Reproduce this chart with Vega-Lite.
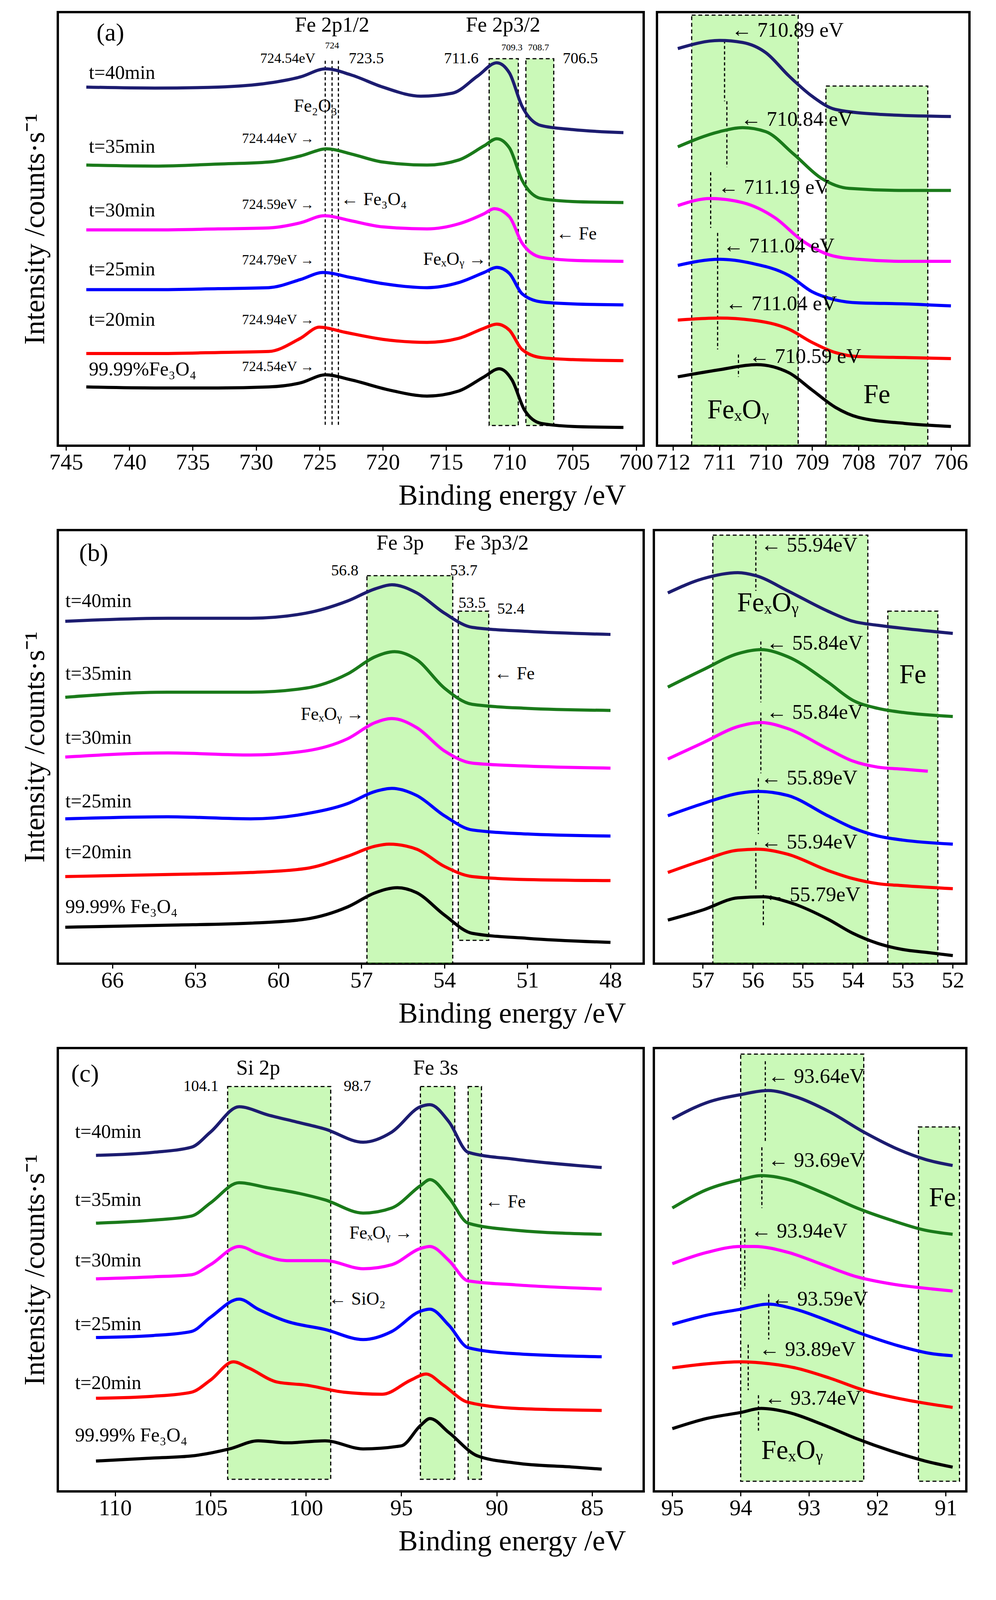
{
  "$schema": "https://vega.github.io/schema/vega-lite/v6.json",
  "padding": {"left": 50, "top": 28, "right": 10, "bottom": 5},
  "background": "white",
  "config": {
    "font": "Liberation Serif",
    "view": {"stroke": "#000", "strokeWidth": 6},
    "axis": {"labelFont": "Liberation Serif", "titleFont": "Liberation Serif", "labelFontSize": 58, "titleFontSize": 74, "titleFontWeight": "normal", "grid": false, "domain": false, "tickSize": 12, "tickWidth": 3, "tickColor": "#000", "labelColor": "#000", "titleColor": "#000", "format": "d"},
    "text": {"font": "Liberation Serif", "color": "#000"},
    "line": {"interpolate": "monotone"}
  },
  "datasets": {
    "rects": [
      {"p": "aL", "x1": 711.6, "x2": 709.3, "y1": 58, "y2": 420},
      {"p": "aL", "x1": 708.7, "x2": 706.5, "y1": 58, "y2": 420},
      {"p": "aR", "x1": 711.6, "x2": 709.3, "y1": 15, "y2": 440},
      {"p": "aR", "x1": 708.7, "x2": 706.5, "y1": 85, "y2": 440},
      {"p": "bL", "x1": 56.8, "x2": 53.7, "y1": 585, "y2": 968},
      {"p": "bL", "x1": 53.5, "x2": 52.4, "y1": 620, "y2": 945},
      {"p": "bR", "x1": 56.8, "x2": 53.7, "y1": 545, "y2": 968},
      {"p": "bR", "x1": 53.3, "x2": 52.3, "y1": 620, "y2": 968},
      {"p": "cL", "x1": 104.1, "x2": 98.7, "y1": 1090, "y2": 1478},
      {"p": "cL", "x1": 94, "x2": 92.2, "y1": 1090, "y2": 1478},
      {"p": "cL", "x1": 91.5, "x2": 90.8, "y1": 1090, "y2": 1478},
      {"p": "cR", "x1": 94, "x2": 92.2, "y1": 1058, "y2": 1480},
      {"p": "cR", "x1": 91.4, "x2": 90.8, "y1": 1130, "y2": 1480}
    ],
    "vlines": [
      {"p": "aL", "x": 724.54, "y1": 60, "y2": 420},
      {"p": "aL", "x": 724, "y1": 60, "y2": 420},
      {"p": "aL", "x": 723.5, "y1": 60, "y2": 420},
      {"p": "aR", "x": 710.89, "y1": 40, "y2": 100},
      {"p": "aR", "x": 710.84, "y1": 100, "y2": 165},
      {"p": "aR", "x": 711.19, "y1": 170, "y2": 225},
      {"p": "aR", "x": 711.04, "y1": 230, "y2": 290},
      {"p": "aR", "x": 711.04, "y1": 290, "y2": 345},
      {"p": "aR", "x": 710.59, "y1": 350, "y2": 372},
      {"p": "bR", "x": 55.94, "y1": 545, "y2": 600},
      {"p": "bR", "x": 55.84, "y1": 650, "y2": 710},
      {"p": "bR", "x": 55.84, "y1": 720, "y2": 780},
      {"p": "bR", "x": 55.89, "y1": 785, "y2": 840},
      {"p": "bR", "x": 55.94, "y1": 848, "y2": 895},
      {"p": "bR", "x": 55.79, "y1": 900, "y2": 930},
      {"p": "cR", "x": 93.64, "y1": 1065, "y2": 1145},
      {"p": "cR", "x": 93.69, "y1": 1150, "y2": 1210},
      {"p": "cR", "x": 93.94, "y1": 1230, "y2": 1290},
      {"p": "cR", "x": 93.59, "y1": 1295, "y2": 1340},
      {"p": "cR", "x": 93.89, "y1": 1345, "y2": 1390},
      {"p": "cR", "x": 93.74, "y1": 1395, "y2": 1430}
    ],
    "labels": [
      {"p": "aL", "x": 742.6, "y": 33, "t": "(a)", "a": "left", "k": "panel"},
      {"p": "aL", "x": 724, "y": 25, "t": "Fe 2p1/2", "a": "center", "k": "head"},
      {"p": "aL", "x": 710.5, "y": 25, "t": "Fe 2p3/2", "a": "center", "k": "head"},
      {"p": "aL", "x": 727.5, "y": 58, "t": "724.54eV", "a": "center", "k": "peak"},
      {"p": "aL", "x": 724, "y": 45, "t": "724", "a": "center", "k": "tiny"},
      {"p": "aL", "x": 721.3, "y": 58, "t": "723.5", "a": "center", "k": "small"},
      {"p": "aL", "x": 713.8, "y": 58, "t": "711.6", "a": "center", "k": "small"},
      {"p": "aL", "x": 709.8, "y": 47, "t": "709.3", "a": "center", "k": "tiny"},
      {"p": "aL", "x": 707.7, "y": 47, "t": "708.7", "a": "center", "k": "tiny"},
      {"p": "aL", "x": 704.4, "y": 58, "t": "706.5", "a": "center", "k": "small"},
      {"p": "aL", "x": 743.2, "y": 72, "t": "t=40min", "a": "left", "k": "series"},
      {"p": "aL", "x": 743.2, "y": 145, "t": "t=35min", "a": "left", "k": "series"},
      {"p": "aL", "x": 743.2, "y": 208, "t": "t=30min", "a": "left", "k": "series"},
      {"p": "aL", "x": 743.2, "y": 266, "t": "t=25min", "a": "left", "k": "series"},
      {"p": "aL", "x": 743.2, "y": 316, "t": "t=20min", "a": "left", "k": "series"},
      {"p": "aL", "x": 743.2, "y": 365, "t": "99.99%Fe₃O₄", "a": "left", "k": "series"},
      {"p": "aL", "x": 725.4, "y": 137, "t": "724.44eV →", "a": "right", "k": "peak"},
      {"p": "aL", "x": 725.4, "y": 202, "t": "724.59eV →", "a": "right", "k": "peak"},
      {"p": "aL", "x": 725.4, "y": 257, "t": "724.79eV →", "a": "right", "k": "peak"},
      {"p": "aL", "x": 725.4, "y": 316, "t": "724.94eV →", "a": "right", "k": "peak"},
      {"p": "aL", "x": 725.4, "y": 362, "t": "724.54eV →", "a": "right", "k": "peak"},
      {"p": "aL", "x": 725.3, "y": 105, "t": "Fe₂O₃", "a": "center", "k": "mid"},
      {"p": "aL", "x": 723.3, "y": 197, "t": "← Fe₃O₄", "a": "left", "k": "mid"},
      {"p": "aL", "x": 711.8, "y": 256, "t": "FeₓOᵧ →", "a": "right", "k": "mid"},
      {"p": "aL", "x": 706.3, "y": 231, "t": "← Fe", "a": "left", "k": "mid"},
      {"p": "aR", "x": 710.74, "y": 30, "t": "← 710.89 eV", "a": "left", "k": "rpeak"},
      {"p": "aR", "x": 710.54, "y": 118, "t": "← 710.84 eV", "a": "left", "k": "rpeak"},
      {"p": "aR", "x": 711.03, "y": 185, "t": "← 711.19 eV", "a": "left", "k": "rpeak"},
      {"p": "aR", "x": 710.92, "y": 243, "t": "← 711.04 eV", "a": "left", "k": "rpeak"},
      {"p": "aR", "x": 710.87, "y": 300, "t": "← 711.04 eV", "a": "left", "k": "rpeak"},
      {"p": "aR", "x": 710.36, "y": 352, "t": "← 710.59 eV", "a": "left", "k": "rpeak"},
      {"p": "aR", "x": 710.6, "y": 405, "t": "FeₓOᵧ", "a": "center", "k": "big"},
      {"p": "aR", "x": 707.6, "y": 390, "t": "Fe", "a": "center", "k": "big"},
      {"p": "bL", "x": 67.2, "y": 563, "t": "(b)", "a": "left", "k": "panel"},
      {"p": "bL", "x": 55.6, "y": 553, "t": "Fe 3p", "a": "center", "k": "head"},
      {"p": "bL", "x": 52.3, "y": 553, "t": "Fe 3p3/2", "a": "center", "k": "head"},
      {"p": "bL", "x": 57.6, "y": 580, "t": "56.8", "a": "center", "k": "small"},
      {"p": "bL", "x": 53.3, "y": 580, "t": "53.7", "a": "center", "k": "small"},
      {"p": "bL", "x": 53.0, "y": 612, "t": "53.5", "a": "center", "k": "small"},
      {"p": "bL", "x": 51.6, "y": 618, "t": "52.4", "a": "center", "k": "small"},
      {"p": "bL", "x": 67.7, "y": 610, "t": "t=40min", "a": "left", "k": "series"},
      {"p": "bL", "x": 67.7, "y": 682, "t": "t=35min", "a": "left", "k": "series"},
      {"p": "bL", "x": 67.7, "y": 745, "t": "t=30min", "a": "left", "k": "series"},
      {"p": "bL", "x": 67.7, "y": 808, "t": "t=25min", "a": "left", "k": "series"},
      {"p": "bL", "x": 67.7, "y": 858, "t": "t=20min", "a": "left", "k": "series"},
      {"p": "bL", "x": 67.7, "y": 912, "t": "99.99% Fe₃O₄", "a": "left", "k": "series"},
      {"p": "bL", "x": 56.9, "y": 722, "t": "FeₓOᵧ →", "a": "right", "k": "mid"},
      {"p": "bL", "x": 52.2, "y": 682, "t": "← Fe", "a": "left", "k": "mid"},
      {"p": "bR", "x": 55.84, "y": 555, "t": "← 55.94eV", "a": "left", "k": "rpeak"},
      {"p": "bR", "x": 55.73, "y": 652, "t": "← 55.84eV", "a": "left", "k": "rpeak"},
      {"p": "bR", "x": 55.73, "y": 720, "t": "← 55.84eV", "a": "left", "k": "rpeak"},
      {"p": "bR", "x": 55.84, "y": 785, "t": "← 55.89eV", "a": "left", "k": "rpeak"},
      {"p": "bR", "x": 55.84, "y": 848, "t": "← 55.94eV", "a": "left", "k": "rpeak"},
      {"p": "bR", "x": 55.78, "y": 900, "t": "← 55.79eV", "a": "left", "k": "rpeak"},
      {"p": "bR", "x": 55.7, "y": 612, "t": "FeₓOᵧ", "a": "center", "k": "big"},
      {"p": "bR", "x": 52.8, "y": 683, "t": "Fe", "a": "center", "k": "big"},
      {"p": "cL", "x": 112.3, "y": 1078, "t": "(c)", "a": "left", "k": "panel"},
      {"p": "cL", "x": 102.5, "y": 1072, "t": "Si 2p", "a": "center", "k": "head"},
      {"p": "cL", "x": 93.2, "y": 1072, "t": "Fe 3s", "a": "center", "k": "head"},
      {"p": "cL", "x": 105.5, "y": 1090, "t": "104.1", "a": "center", "k": "small"},
      {"p": "cL", "x": 97.3, "y": 1090, "t": "98.7", "a": "center", "k": "small"},
      {"p": "cL", "x": 112.1, "y": 1135, "t": "t=40min", "a": "left", "k": "series"},
      {"p": "cL", "x": 112.1, "y": 1202, "t": "t=35min", "a": "left", "k": "series"},
      {"p": "cL", "x": 112.1, "y": 1262, "t": "t=30min", "a": "left", "k": "series"},
      {"p": "cL", "x": 112.1, "y": 1325, "t": "t=25min", "a": "left", "k": "series"},
      {"p": "cL", "x": 112.1, "y": 1383, "t": "t=20min", "a": "left", "k": "series"},
      {"p": "cL", "x": 112.1, "y": 1435, "t": "99.99% Fe₃O₄", "a": "left", "k": "series"},
      {"p": "cL", "x": 94.4, "y": 1235, "t": "FeₓOᵧ →", "a": "right", "k": "mid"},
      {"p": "cL", "x": 90.6, "y": 1204, "t": "← Fe", "a": "left", "k": "mid"},
      {"p": "cL", "x": 98.8, "y": 1300, "t": "← SiO₂", "a": "left", "k": "mid"},
      {"p": "cR", "x": 93.6, "y": 1080, "t": "← 93.64eV", "a": "left", "k": "rpeak"},
      {"p": "cR", "x": 93.6, "y": 1163, "t": "← 93.69eV", "a": "left", "k": "rpeak"},
      {"p": "cR", "x": 93.85, "y": 1233, "t": "← 93.94eV", "a": "left", "k": "rpeak"},
      {"p": "cR", "x": 93.55, "y": 1300, "t": "← 93.59eV", "a": "left", "k": "rpeak"},
      {"p": "cR", "x": 93.73, "y": 1350, "t": "← 93.89eV", "a": "left", "k": "rpeak"},
      {"p": "cR", "x": 93.65, "y": 1398, "t": "← 93.74eV", "a": "left", "k": "rpeak"},
      {"p": "cR", "x": 93.25, "y": 1450, "t": "FeₓOᵧ", "a": "center", "k": "big"},
      {"p": "cR", "x": 91.05, "y": 1200, "t": "Fe", "a": "center", "k": "big"}
    ],
    "curves": [
      {"p":"aL","s":"ref","x":743.4,"y":382},{"p":"aL","s":"ref","x":738,"y":383},{"p":"aL","s":"ref","x":733,"y":383},{"p":"aL","s":"ref","x":729,"y":382},{"p":"aL","s":"ref","x":726.5,"y":378},{"p":"aL","s":"ref","x":724.5,"y":370},{"p":"aL","s":"ref","x":722.5,"y":375},{"p":"aL","s":"ref","x":719.5,"y":385},{"p":"aL","s":"ref","x":716.5,"y":391},{"p":"aL","s":"ref","x":714,"y":386},{"p":"aL","s":"ref","x":712,"y":372},{"p":"aL","s":"ref","x":710.8,"y":364},{"p":"aL","s":"ref","x":709.8,"y":375},{"p":"aL","s":"ref","x":708.8,"y":405},{"p":"aL","s":"ref","x":707.5,"y":418},{"p":"aL","s":"ref","x":705,"y":421},{"p":"aL","s":"ref","x":701,"y":422},
      {"p":"aL","s":"20","x":743.4,"y":349},{"p":"aL","s":"20","x":738,"y":349},{"p":"aL","s":"20","x":733,"y":348},{"p":"aL","s":"20","x":729,"y":347},{"p":"aL","s":"20","x":726.5,"y":334},{"p":"aL","s":"20","x":725,"y":323},{"p":"aL","s":"20","x":723,"y":328},{"p":"aL","s":"20","x":720,"y":335},{"p":"aL","s":"20","x":716.5,"y":338},{"p":"aL","s":"20","x":714,"y":334},{"p":"aL","s":"20","x":712,"y":324},{"p":"aL","s":"20","x":711,"y":320},{"p":"aL","s":"20","x":710,"y":326},{"p":"aL","s":"20","x":709,"y":345},{"p":"aL","s":"20","x":707.5,"y":353},{"p":"aL","s":"20","x":705,"y":355},{"p":"aL","s":"20","x":701,"y":356},
      {"p":"aL","s":"25","x":743.4,"y":286},{"p":"aL","s":"25","x":738,"y":286},{"p":"aL","s":"25","x":733,"y":285},{"p":"aL","s":"25","x":729,"y":284},{"p":"aL","s":"25","x":726.5,"y":276},{"p":"aL","s":"25","x":724.7,"y":269},{"p":"aL","s":"25","x":722.5,"y":274},{"p":"aL","s":"25","x":720,"y":280},{"p":"aL","s":"25","x":716.5,"y":284},{"p":"aL","s":"25","x":714,"y":279},{"p":"aL","s":"25","x":712,"y":269},{"p":"aL","s":"25","x":711,"y":264},{"p":"aL","s":"25","x":710,"y":270},{"p":"aL","s":"25","x":709,"y":290},{"p":"aL","s":"25","x":707.5,"y":298},{"p":"aL","s":"25","x":705,"y":300},{"p":"aL","s":"25","x":701,"y":301},
      {"p":"aL","s":"30","x":743.4,"y":227},{"p":"aL","s":"30","x":738,"y":227},{"p":"aL","s":"30","x":733,"y":226},{"p":"aL","s":"30","x":729,"y":225},{"p":"aL","s":"30","x":726.5,"y":220},{"p":"aL","s":"30","x":724.6,"y":213},{"p":"aL","s":"30","x":722.5,"y":218},{"p":"aL","s":"30","x":720,"y":224},{"p":"aL","s":"30","x":716.5,"y":226},{"p":"aL","s":"30","x":714,"y":221},{"p":"aL","s":"30","x":712,"y":211},{"p":"aL","s":"30","x":711.2,"y":206},{"p":"aL","s":"30","x":710,"y":214},{"p":"aL","s":"30","x":709,"y":240},{"p":"aL","s":"30","x":707.5,"y":254},{"p":"aL","s":"30","x":705,"y":257},{"p":"aL","s":"30","x":701,"y":258},
      {"p":"aL","s":"35","x":743.4,"y":163},{"p":"aL","s":"35","x":738,"y":164},{"p":"aL","s":"35","x":733,"y":162},{"p":"aL","s":"35","x":729,"y":160},{"p":"aL","s":"35","x":726.5,"y":154},{"p":"aL","s":"35","x":724.4,"y":147},{"p":"aL","s":"35","x":722.5,"y":152},{"p":"aL","s":"35","x":720,"y":160},{"p":"aL","s":"35","x":716.5,"y":163},{"p":"aL","s":"35","x":714,"y":158},{"p":"aL","s":"35","x":712,"y":144},{"p":"aL","s":"35","x":711,"y":137},{"p":"aL","s":"35","x":710,"y":146},{"p":"aL","s":"35","x":709,"y":178},{"p":"aL","s":"35","x":707.5,"y":196},{"p":"aL","s":"35","x":705,"y":199},{"p":"aL","s":"35","x":701,"y":200},
      {"p":"aL","s":"40","x":743.4,"y":86},{"p":"aL","s":"40","x":738,"y":87},{"p":"aL","s":"40","x":733,"y":86},{"p":"aL","s":"40","x":729,"y":82},{"p":"aL","s":"40","x":726.5,"y":76},{"p":"aL","s":"40","x":724.5,"y":68},{"p":"aL","s":"40","x":722.5,"y":74},{"p":"aL","s":"40","x":720,"y":86},{"p":"aL","s":"40","x":717,"y":95},{"p":"aL","s":"40","x":714.5,"y":92},{"p":"aL","s":"40","x":712.5,"y":75},{"p":"aL","s":"40","x":711,"y":62},{"p":"aL","s":"40","x":710,"y":72},{"p":"aL","s":"40","x":709,"y":105},{"p":"aL","s":"40","x":707.5,"y":124},{"p":"aL","s":"40","x":705,"y":128},{"p":"aL","s":"40","x":701,"y":131},
      {"p":"aR","s":"ref","x":711.9,"y":372},{"p":"aR","s":"ref","x":711,"y":365},{"p":"aR","s":"ref","x":710.2,"y":360},{"p":"aR","s":"ref","x":709.5,"y":368},{"p":"aR","s":"ref","x":709,"y":385},{"p":"aR","s":"ref","x":708.5,"y":402},{"p":"aR","s":"ref","x":708,"y":412},{"p":"aR","s":"ref","x":707,"y":418},{"p":"aR","s":"ref","x":706,"y":421},
      {"p":"aR","s":"20","x":711.9,"y":316},{"p":"aR","s":"20","x":711,"y":314},{"p":"aR","s":"20","x":710.3,"y":316},{"p":"aR","s":"20","x":709.5,"y":325},{"p":"aR","s":"20","x":709,"y":338},{"p":"aR","s":"20","x":708.5,"y":348},{"p":"aR","s":"20","x":708,"y":352},{"p":"aR","s":"20","x":707,"y":353},{"p":"aR","s":"20","x":706,"y":354},
      {"p":"aR","s":"25","x":711.9,"y":262},{"p":"aR","s":"25","x":711,"y":256},{"p":"aR","s":"25","x":710.3,"y":260},{"p":"aR","s":"25","x":709.5,"y":272},{"p":"aR","s":"25","x":709,"y":288},{"p":"aR","s":"25","x":708.5,"y":296},{"p":"aR","s":"25","x":708,"y":299},{"p":"aR","s":"25","x":707,"y":300},{"p":"aR","s":"25","x":706,"y":302},
      {"p":"aR","s":"30","x":711.9,"y":203},{"p":"aR","s":"30","x":711.2,"y":196},{"p":"aR","s":"30","x":710.5,"y":200},{"p":"aR","s":"30","x":709.8,"y":215},{"p":"aR","s":"30","x":709.2,"y":238},{"p":"aR","s":"30","x":708.6,"y":252},{"p":"aR","s":"30","x":708,"y":256},{"p":"aR","s":"30","x":707,"y":258},{"p":"aR","s":"30","x":706,"y":258},
      {"p":"aR","s":"35","x":711.9,"y":145},{"p":"aR","s":"35","x":711,"y":130},{"p":"aR","s":"35","x":710.5,"y":126},{"p":"aR","s":"35","x":710,"y":130},{"p":"aR","s":"35","x":709.4,"y":152},{"p":"aR","s":"35","x":708.8,"y":176},{"p":"aR","s":"35","x":708.2,"y":186},{"p":"aR","s":"35","x":707,"y":188},{"p":"aR","s":"35","x":706,"y":188},
      {"p":"aR","s":"40","x":711.9,"y":48},{"p":"aR","s":"40","x":711,"y":40},{"p":"aR","s":"40","x":710.5,"y":42},{"p":"aR","s":"40","x":710,"y":52},{"p":"aR","s":"40","x":709.5,"y":75},{"p":"aR","s":"40","x":709,"y":95},{"p":"aR","s":"40","x":708.5,"y":108},{"p":"aR","s":"40","x":707.5,"y":113},{"p":"aR","s":"40","x":706,"y":115},
      {"p":"bL","s":"ref","x":67.7,"y":932},{"p":"bL","s":"ref","x":64,"y":930},{"p":"bL","s":"ref","x":61,"y":928},{"p":"bL","s":"ref","x":59,"y":924},{"p":"bL","s":"ref","x":57.5,"y":912},{"p":"bL","s":"ref","x":56.5,"y":898},{"p":"bL","s":"ref","x":55.7,"y":893},{"p":"bL","s":"ref","x":55,"y":898},{"p":"bL","s":"ref","x":54,"y":920},{"p":"bL","s":"ref","x":53,"y":938},{"p":"bL","s":"ref","x":51,"y":943},{"p":"bL","s":"ref","x":48,"y":947},
      {"p":"bL","s":"20","x":67.7,"y":882},{"p":"bL","s":"20","x":64,"y":880},{"p":"bL","s":"20","x":61,"y":878},{"p":"bL","s":"20","x":59,"y":874},{"p":"bL","s":"20","x":57.5,"y":862},{"p":"bL","s":"20","x":56.5,"y":852},{"p":"bL","s":"20","x":56,"y":850},{"p":"bL","s":"20","x":55,"y":855},{"p":"bL","s":"20","x":54,"y":872},{"p":"bL","s":"20","x":53,"y":882},{"p":"bL","s":"20","x":51,"y":885},{"p":"bL","s":"20","x":48,"y":886},
      {"p":"bL","s":"25","x":67.7,"y":825},{"p":"bL","s":"25","x":64,"y":823},{"p":"bL","s":"25","x":61,"y":825},{"p":"bL","s":"25","x":59,"y":820},{"p":"bL","s":"25","x":57.5,"y":810},{"p":"bL","s":"25","x":56.5,"y":798},{"p":"bL","s":"25","x":55.9,"y":795},{"p":"bL","s":"25","x":55,"y":802},{"p":"bL","s":"25","x":54,"y":822},{"p":"bL","s":"25","x":53,"y":836},{"p":"bL","s":"25","x":51,"y":840},{"p":"bL","s":"25","x":48,"y":842},
      {"p":"bL","s":"30","x":67.7,"y":764},{"p":"bL","s":"30","x":64,"y":760},{"p":"bL","s":"30","x":61,"y":762},{"p":"bL","s":"30","x":59,"y":758},{"p":"bL","s":"30","x":57.5,"y":746},{"p":"bL","s":"30","x":56.5,"y":730},{"p":"bL","s":"30","x":55.9,"y":726},{"p":"bL","s":"30","x":55,"y":735},{"p":"bL","s":"30","x":54,"y":758},{"p":"bL","s":"30","x":53,"y":770},{"p":"bL","s":"30","x":51,"y":773},{"p":"bL","s":"30","x":48,"y":775},
      {"p":"bL","s":"35","x":67.7,"y":705},{"p":"bL","s":"35","x":64,"y":700},{"p":"bL","s":"35","x":61,"y":700},{"p":"bL","s":"35","x":59,"y":696},{"p":"bL","s":"35","x":57.5,"y":682},{"p":"bL","s":"35","x":56.5,"y":665},{"p":"bL","s":"35","x":55.8,"y":660},{"p":"bL","s":"35","x":55,"y":668},{"p":"bL","s":"35","x":54,"y":696},{"p":"bL","s":"35","x":53,"y":712},{"p":"bL","s":"35","x":51,"y":716},{"p":"bL","s":"35","x":48,"y":718},
      {"p":"bL","s":"40","x":67.7,"y":630},{"p":"bL","s":"40","x":64,"y":627},{"p":"bL","s":"40","x":61,"y":627},{"p":"bL","s":"40","x":59,"y":622},{"p":"bL","s":"40","x":57.5,"y":610},{"p":"bL","s":"40","x":56.5,"y":598},{"p":"bL","s":"40","x":55.9,"y":594},{"p":"bL","s":"40","x":55,"y":602},{"p":"bL","s":"40","x":54,"y":622},{"p":"bL","s":"40","x":53,"y":636},{"p":"bL","s":"40","x":51,"y":640},{"p":"bL","s":"40","x":48,"y":643},
      {"p":"bR","s":"ref","x":57.7,"y":925},{"p":"bR","s":"ref","x":57,"y":915},{"p":"bR","s":"ref","x":56.3,"y":903},{"p":"bR","s":"ref","x":55.8,"y":902},{"p":"bR","s":"ref","x":55.3,"y":907},{"p":"bR","s":"ref","x":54.5,"y":924},{"p":"bR","s":"ref","x":54,"y":938},{"p":"bR","s":"ref","x":53.5,"y":948},{"p":"bR","s":"ref","x":53,"y":954},{"p":"bR","s":"ref","x":52.5,"y":957},{"p":"bR","s":"ref","x":52,"y":960},
      {"p":"bR","s":"20","x":57.7,"y":878},{"p":"bR","s":"20","x":57,"y":866},{"p":"bR","s":"20","x":56.3,"y":856},{"p":"bR","s":"20","x":55.9,"y":855},{"p":"bR","s":"20","x":55.3,"y":860},{"p":"bR","s":"20","x":54.5,"y":876},{"p":"bR","s":"20","x":54,"y":884},{"p":"bR","s":"20","x":53.5,"y":889},{"p":"bR","s":"20","x":53,"y":891},{"p":"bR","s":"20","x":52,"y":894},
      {"p":"bR","s":"25","x":57.7,"y":822},{"p":"bR","s":"25","x":57,"y":810},{"p":"bR","s":"25","x":56.3,"y":800},{"p":"bR","s":"25","x":55.9,"y":798},{"p":"bR","s":"25","x":55.3,"y":802},{"p":"bR","s":"25","x":54.5,"y":822},{"p":"bR","s":"25","x":54,"y":834},{"p":"bR","s":"25","x":53.5,"y":842},{"p":"bR","s":"25","x":53,"y":846},{"p":"bR","s":"25","x":52,"y":850},
      {"p":"bR","s":"30","x":57.7,"y":766},{"p":"bR","s":"30","x":57,"y":750},{"p":"bR","s":"30","x":56.3,"y":734},{"p":"bR","s":"30","x":55.84,"y":730},{"p":"bR","s":"30","x":55.3,"y":736},{"p":"bR","s":"30","x":54.5,"y":756},{"p":"bR","s":"30","x":54,"y":768},{"p":"bR","s":"30","x":53.5,"y":774},{"p":"bR","s":"30","x":53,"y":776},{"p":"bR","s":"30","x":52.5,"y":778},
      {"p":"bR","s":"35","x":57.7,"y":695},{"p":"bR","s":"35","x":57,"y":678},{"p":"bR","s":"35","x":56.3,"y":662},{"p":"bR","s":"35","x":55.84,"y":658},{"p":"bR","s":"35","x":55.3,"y":665},{"p":"bR","s":"35","x":54.5,"y":690},{"p":"bR","s":"35","x":54,"y":708},{"p":"bR","s":"35","x":53.5,"y":716},{"p":"bR","s":"35","x":53,"y":720},{"p":"bR","s":"35","x":52,"y":724},
      {"p":"bR","s":"40","x":57.7,"y":602},{"p":"bR","s":"40","x":57,"y":588},{"p":"bR","s":"40","x":56.3,"y":582},{"p":"bR","s":"40","x":55.94,"y":585},{"p":"bR","s":"40","x":55.3,"y":600},{"p":"bR","s":"40","x":54.5,"y":620},{"p":"bR","s":"40","x":54,"y":630},{"p":"bR","s":"40","x":53.5,"y":634},{"p":"bR","s":"40","x":53,"y":637},{"p":"bR","s":"40","x":52,"y":642},
      {"p":"cL","s":"ref","x":111,"y":1460},{"p":"cL","s":"ref","x":108,"y":1457},{"p":"cL","s":"ref","x":106,"y":1455},{"p":"cL","s":"ref","x":104,"y":1448},{"p":"cL","s":"ref","x":102.5,"y":1440},{"p":"cL","s":"ref","x":101,"y":1442},{"p":"cL","s":"ref","x":99,"y":1440},{"p":"cL","s":"ref","x":97,"y":1448},{"p":"cL","s":"ref","x":95,"y":1445},{"p":"cL","s":"ref","x":94,"y":1425},{"p":"cL","s":"ref","x":93.5,"y":1418},{"p":"cL","s":"ref","x":92.5,"y":1432},{"p":"cL","s":"ref","x":91,"y":1455},{"p":"cL","s":"ref","x":89,"y":1462},{"p":"cL","s":"ref","x":86,"y":1466},{"p":"cL","s":"ref","x":84.5,"y":1468},
      {"p":"cL","s":"20","x":111,"y":1398},{"p":"cL","s":"20","x":108,"y":1396},{"p":"cL","s":"20","x":106,"y":1392},{"p":"cL","s":"20","x":105,"y":1380},{"p":"cL","s":"20","x":103.8,"y":1362},{"p":"cL","s":"20","x":103,"y":1368},{"p":"cL","s":"20","x":101.5,"y":1382},{"p":"cL","s":"20","x":100,"y":1385},{"p":"cL","s":"20","x":98,"y":1392},{"p":"cL","s":"20","x":96,"y":1394},{"p":"cL","s":"20","x":94.5,"y":1380},{"p":"cL","s":"20","x":93.7,"y":1374},{"p":"cL","s":"20","x":92.8,"y":1385},{"p":"cL","s":"20","x":91.5,"y":1402},{"p":"cL","s":"20","x":89,"y":1408},{"p":"cL","s":"20","x":84.5,"y":1410},
      {"p":"cL","s":"25","x":111,"y":1338},{"p":"cL","s":"25","x":108,"y":1336},{"p":"cL","s":"25","x":106,"y":1332},{"p":"cL","s":"25","x":105,"y":1318},{"p":"cL","s":"25","x":103.5,"y":1300},{"p":"cL","s":"25","x":102.5,"y":1310},{"p":"cL","s":"25","x":101,"y":1322},{"p":"cL","s":"25","x":99,"y":1330},{"p":"cL","s":"25","x":97,"y":1340},{"p":"cL","s":"25","x":95.5,"y":1332},{"p":"cL","s":"25","x":94,"y":1312},{"p":"cL","s":"25","x":93.5,"y":1310},{"p":"cL","s":"25","x":92.5,"y":1326},{"p":"cL","s":"25","x":91.5,"y":1348},{"p":"cL","s":"25","x":89,"y":1354},{"p":"cL","s":"25","x":84.5,"y":1357},
      {"p":"cL","s":"30","x":111,"y":1280},{"p":"cL","s":"30","x":108,"y":1278},{"p":"cL","s":"30","x":106,"y":1276},{"p":"cL","s":"30","x":105,"y":1266},{"p":"cL","s":"30","x":103.5,"y":1248},{"p":"cL","s":"30","x":102.5,"y":1255},{"p":"cL","s":"30","x":101,"y":1262},{"p":"cL","s":"30","x":99,"y":1262},{"p":"cL","s":"30","x":97,"y":1270},{"p":"cL","s":"30","x":95.5,"y":1266},{"p":"cL","s":"30","x":94,"y":1250},{"p":"cL","s":"30","x":93.5,"y":1248},{"p":"cL","s":"30","x":92.5,"y":1262},{"p":"cL","s":"30","x":91.5,"y":1282},{"p":"cL","s":"30","x":89,"y":1286},{"p":"cL","s":"30","x":84.5,"y":1290},
      {"p":"cL","s":"35","x":111,"y":1225},{"p":"cL","s":"35","x":108,"y":1222},{"p":"cL","s":"35","x":106,"y":1218},{"p":"cL","s":"35","x":105,"y":1205},{"p":"cL","s":"35","x":103.5,"y":1185},{"p":"cL","s":"35","x":102,"y":1190},{"p":"cL","s":"35","x":100.5,"y":1195},{"p":"cL","s":"35","x":99,"y":1202},{"p":"cL","s":"35","x":97,"y":1215},{"p":"cL","s":"35","x":95.5,"y":1210},{"p":"cL","s":"35","x":94,"y":1188},{"p":"cL","s":"35","x":93.5,"y":1182},{"p":"cL","s":"35","x":92.5,"y":1200},{"p":"cL","s":"35","x":91.5,"y":1225},{"p":"cL","s":"35","x":89,"y":1232},{"p":"cL","s":"35","x":84.5,"y":1236},
      {"p":"cL","s":"40","x":111,"y":1158},{"p":"cL","s":"40","x":108,"y":1155},{"p":"cL","s":"40","x":106,"y":1150},{"p":"cL","s":"40","x":105,"y":1135},{"p":"cL","s":"40","x":103.5,"y":1110},{"p":"cL","s":"40","x":102,"y":1118},{"p":"cL","s":"40","x":100.5,"y":1125},{"p":"cL","s":"40","x":99,"y":1132},{"p":"cL","s":"40","x":97,"y":1145},{"p":"cL","s":"40","x":95.5,"y":1135},{"p":"cL","s":"40","x":94,"y":1110},{"p":"cL","s":"40","x":93.5,"y":1108},{"p":"cL","s":"40","x":92.5,"y":1125},{"p":"cL","s":"40","x":91.5,"y":1155},{"p":"cL","s":"40","x":89,"y":1162},{"p":"cL","s":"40","x":84.5,"y":1170},
      {"p":"cR","s":"ref","x":95,"y":1428},{"p":"cR","s":"ref","x":94.5,"y":1418},{"p":"cR","s":"ref","x":94,"y":1412},{"p":"cR","s":"ref","x":93.7,"y":1408},{"p":"cR","s":"ref","x":93.3,"y":1412},{"p":"cR","s":"ref","x":92.8,"y":1424},{"p":"cR","s":"ref","x":92.3,"y":1438},{"p":"cR","s":"ref","x":91.8,"y":1450},{"p":"cR","s":"ref","x":91.3,"y":1460},{"p":"cR","s":"ref","x":90.9,"y":1466},
      {"p":"cR","s":"20","x":95,"y":1368},{"p":"cR","s":"20","x":94.5,"y":1364},{"p":"cR","s":"20","x":94,"y":1362},{"p":"cR","s":"20","x":93.7,"y":1363},{"p":"cR","s":"20","x":93.2,"y":1368},{"p":"cR","s":"20","x":92.7,"y":1378},{"p":"cR","s":"20","x":92.2,"y":1390},{"p":"cR","s":"20","x":91.7,"y":1398},{"p":"cR","s":"20","x":91.2,"y":1404},{"p":"cR","s":"20","x":90.9,"y":1407},
      {"p":"cR","s":"25","x":95,"y":1325},{"p":"cR","s":"25","x":94.5,"y":1316},{"p":"cR","s":"25","x":94,"y":1310},{"p":"cR","s":"25","x":93.6,"y":1305},{"p":"cR","s":"25","x":93.2,"y":1310},{"p":"cR","s":"25","x":92.7,"y":1322},{"p":"cR","s":"25","x":92.2,"y":1335},{"p":"cR","s":"25","x":91.7,"y":1346},{"p":"cR","s":"25","x":91.2,"y":1354},{"p":"cR","s":"25","x":90.9,"y":1356},
      {"p":"cR","s":"30","x":95,"y":1265},{"p":"cR","s":"30","x":94.5,"y":1254},{"p":"cR","s":"30","x":94,"y":1248},{"p":"cR","s":"30","x":93.8,"y":1248},{"p":"cR","s":"30","x":93.3,"y":1254},{"p":"cR","s":"30","x":92.8,"y":1266},{"p":"cR","s":"30","x":92.3,"y":1278},{"p":"cR","s":"30","x":91.8,"y":1285},{"p":"cR","s":"30","x":91.2,"y":1290},{"p":"cR","s":"30","x":90.9,"y":1292},
      {"p":"cR","s":"35","x":95,"y":1210},{"p":"cR","s":"35","x":94.5,"y":1192},{"p":"cR","s":"35","x":94,"y":1182},{"p":"cR","s":"35","x":93.7,"y":1178},{"p":"cR","s":"35","x":93.3,"y":1182},{"p":"cR","s":"35","x":92.8,"y":1195},{"p":"cR","s":"35","x":92.3,"y":1210},{"p":"cR","s":"35","x":91.8,"y":1222},{"p":"cR","s":"35","x":91.3,"y":1232},{"p":"cR","s":"35","x":90.9,"y":1236},
      {"p":"cR","s":"40","x":95,"y":1122},{"p":"cR","s":"40","x":94.5,"y":1106},{"p":"cR","s":"40","x":94,"y":1098},{"p":"cR","s":"40","x":93.6,"y":1094},{"p":"cR","s":"40","x":93.2,"y":1100},{"p":"cR","s":"40","x":92.7,"y":1115},{"p":"cR","s":"40","x":92.2,"y":1135},{"p":"cR","s":"40","x":91.7,"y":1152},{"p":"cR","s":"40","x":91.3,"y":1162},{"p":"cR","s":"40","x":90.9,"y":1168}
    ]
  },
  "vconcat": [
    {"hconcat": [
      {"width": 1500, "height": 1110, "layer": [
        {"data": {"name": "rects"}, "transform": [{"filter": "datum.p == 'aL'"}], "mark": {"type": "rect", "fill": "#66ee33", "fillOpacity": 0.35, "stroke": "#000", "strokeDash": [10, 7], "strokeWidth": 3},
         "encoding": {"x": {"field": "x1", "type": "quantitative", "scale": {"domain": [699.4, 745.65], "reverse": true, "nice": false, "zero": false}, "axis": {"values": [745, 740, 735, 730, 725, 720, 715, 710, 705, 700], "title": "Binding energy /eV", "titleX": 1163, "titlePadding": 20}},
          "x2": {"field": "x2"},
          "y": {"field": "y1", "type": "quantitative", "scale": {"domain": [440, 12], "nice": false, "zero": false}, "axis": {"labels": false, "ticks": false, "title": "Intensity /counts·s⁻¹", "titlePadding": 20}},
          "y2": {"field": "y2"}}},
        {"data": {"name": "vlines"}, "transform": [{"filter": "datum.p == 'aL'"}], "mark": {"type": "rule", "strokeDash": [8, 6], "strokeWidth": 3, "color": "#000"}, "encoding": {"x": {"field": "x", "type": "quantitative"}, "y": {"field": "y1", "type": "quantitative"}, "y2": {"field": "y2"}}},
        {"data": {"name": "curves"}, "transform": [{"filter": "datum.p == 'aL'"}], "mark": {"type": "line", "strokeWidth": 8}, "encoding": {"x": {"field": "x", "type": "quantitative"}, "y": {"field": "y", "type": "quantitative"}, "color": {"field": "s", "type": "nominal", "scale": {"domain": ["40", "35", "30", "25", "20", "ref"], "range": ["#1c1c70", "#1a7a1a", "#ff00ff", "#0000ff", "#ff0000", "#000000"]}, "legend": null}}},
        {"data": {"name": "labels"}, "transform": [{"filter": "datum.p == 'aL' && datum.a == 'left'"}], "mark": {"type": "text", "align": "left"}, "encoding": {"x": {"field": "x", "type": "quantitative"}, "y": {"field": "y", "type": "quantitative"}, "text": {"field": "t"}, "size": {"field": "k", "type": "nominal", "scale": {"type": "ordinal", "domain": ["panel", "head", "peak", "small", "tiny", "series", "mid", "rpeak", "big"], "range": [64, 54, 36, 40, 24, 50, 46, 53, 69]}, "legend": null}}},
        {"data": {"name": "labels"}, "transform": [{"filter": "datum.p == 'aL' && datum.a == 'right'"}], "mark": {"type": "text", "align": "right"}, "encoding": {"x": {"field": "x", "type": "quantitative"}, "y": {"field": "y", "type": "quantitative"}, "text": {"field": "t"}, "size": {"field": "k", "type": "nominal", "scale": {"type": "ordinal", "domain": ["panel", "head", "peak", "small", "tiny", "series", "mid", "rpeak", "big"], "range": [64, 54, 36, 40, 24, 50, 46, 53, 69]}, "legend": null}}},
        {"data": {"name": "labels"}, "transform": [{"filter": "datum.p == 'aL' && datum.a == 'center'"}], "mark": {"type": "text", "align": "center"}, "encoding": {"x": {"field": "x", "type": "quantitative"}, "y": {"field": "y", "type": "quantitative"}, "text": {"field": "t"}, "size": {"field": "k", "type": "nominal", "scale": {"type": "ordinal", "domain": ["panel", "head", "peak", "small", "tiny", "series", "mid", "rpeak", "big"], "range": [64, 54, 36, 40, 24, 50, 46, 53, 69]}, "legend": null}}}
      ]},
      {"width": 800, "height": 1110, "layer": [
        {"data": {"name": "rects"}, "transform": [{"filter": "datum.p == 'aR'"}], "mark": {"type": "rect", "fill": "#66ee33", "fillOpacity": 0.35, "stroke": "#000", "strokeDash": [10, 7], "strokeWidth": 3},
         "encoding": {"x": {"field": "x1", "type": "quantitative", "scale": {"domain": [705.6, 712.35], "reverse": true, "nice": false, "zero": false}, "axis": {"values": [712, 711, 710, 709, 708, 707, 706], "title": null}},
          "x2": {"field": "x2"},
          "y": {"field": "y1", "type": "quantitative", "scale": {"domain": [440, 12], "nice": false, "zero": false}, "axis": null},
          "y2": {"field": "y2"}}},
        {"data": {"name": "vlines"}, "transform": [{"filter": "datum.p == 'aR'"}], "mark": {"type": "rule", "strokeDash": [8, 6], "strokeWidth": 3, "color": "#000"}, "encoding": {"x": {"field": "x", "type": "quantitative"}, "y": {"field": "y1", "type": "quantitative"}, "y2": {"field": "y2"}}},
        {"data": {"name": "curves"}, "transform": [{"filter": "datum.p == 'aR'"}], "mark": {"type": "line", "strokeWidth": 8}, "encoding": {"x": {"field": "x", "type": "quantitative"}, "y": {"field": "y", "type": "quantitative"}, "color": {"field": "s", "type": "nominal", "scale": {"domain": ["40", "35", "30", "25", "20", "ref"], "range": ["#1c1c70", "#1a7a1a", "#ff00ff", "#0000ff", "#ff0000", "#000000"]}, "legend": null}}},
        {"data": {"name": "labels"}, "transform": [{"filter": "datum.p == 'aR' && datum.a == 'left'"}], "mark": {"type": "text", "align": "left"}, "encoding": {"x": {"field": "x", "type": "quantitative"}, "y": {"field": "y", "type": "quantitative"}, "text": {"field": "t"}, "size": {"field": "k", "type": "nominal", "scale": {"type": "ordinal", "domain": ["panel", "head", "peak", "small", "tiny", "series", "mid", "rpeak", "big"], "range": [64, 54, 36, 40, 24, 50, 46, 53, 69]}, "legend": null}}},
        {"data": {"name": "labels"}, "transform": [{"filter": "datum.p == 'aR' && datum.a == 'center'"}], "mark": {"type": "text", "align": "center"}, "encoding": {"x": {"field": "x", "type": "quantitative"}, "y": {"field": "y", "type": "quantitative"}, "text": {"field": "t"}, "size": {"field": "k", "type": "nominal", "scale": {"type": "ordinal", "domain": ["panel", "head", "peak", "small", "tiny", "series", "mid", "rpeak", "big"], "range": [64, 54, 36, 40, 24, 50, 46, 53, 69]}, "legend": null}}}
      ]}
    ], "spacing": 0},
    {"hconcat": [
      {"width": 1500, "height": 1110, "layer": [
        {"data": {"name": "rects"}, "transform": [{"filter": "datum.p == 'bL'"}], "mark": {"type": "rect", "fill": "#66ee33", "fillOpacity": 0.35, "stroke": "#000", "strokeDash": [10, 7], "strokeWidth": 3},
         "encoding": {"x": {"field": "x1", "type": "quantitative", "scale": {"domain": [46.8, 67.97], "reverse": true, "nice": false, "zero": false}, "axis": {"values": [66, 63, 60, 57, 54, 51, 48], "title": "Binding energy /eV", "titleX": 1163, "titlePadding": 20}},
          "x2": {"field": "x2"},
          "y": {"field": "y1", "type": "quantitative", "scale": {"domain": [968, 540], "nice": false, "zero": false}, "axis": {"labels": false, "ticks": false, "title": "Intensity /counts·s⁻¹", "titlePadding": 20}},
          "y2": {"field": "y2"}}},
        {"data": {"name": "curves"}, "transform": [{"filter": "datum.p == 'bL'"}], "mark": {"type": "line", "strokeWidth": 8}, "encoding": {"x": {"field": "x", "type": "quantitative"}, "y": {"field": "y", "type": "quantitative"}, "color": {"field": "s", "type": "nominal", "scale": {"domain": ["40", "35", "30", "25", "20", "ref"], "range": ["#1c1c70", "#1a7a1a", "#ff00ff", "#0000ff", "#ff0000", "#000000"]}, "legend": null}}},
        {"data": {"name": "labels"}, "transform": [{"filter": "datum.p == 'bL' && datum.a == 'left'"}], "mark": {"type": "text", "align": "left"}, "encoding": {"x": {"field": "x", "type": "quantitative"}, "y": {"field": "y", "type": "quantitative"}, "text": {"field": "t"}, "size": {"field": "k", "type": "nominal", "scale": {"type": "ordinal", "domain": ["panel", "head", "peak", "small", "tiny", "series", "mid", "rpeak", "big"], "range": [64, 54, 36, 40, 24, 50, 46, 53, 69]}, "legend": null}}},
        {"data": {"name": "labels"}, "transform": [{"filter": "datum.p == 'bL' && datum.a == 'right'"}], "mark": {"type": "text", "align": "right"}, "encoding": {"x": {"field": "x", "type": "quantitative"}, "y": {"field": "y", "type": "quantitative"}, "text": {"field": "t"}, "size": {"field": "k", "type": "nominal", "scale": {"type": "ordinal", "domain": ["panel", "head", "peak", "small", "tiny", "series", "mid", "rpeak", "big"], "range": [64, 54, 36, 40, 24, 50, 46, 53, 69]}, "legend": null}}},
        {"data": {"name": "labels"}, "transform": [{"filter": "datum.p == 'bL' && datum.a == 'center'"}], "mark": {"type": "text", "align": "center"}, "encoding": {"x": {"field": "x", "type": "quantitative"}, "y": {"field": "y", "type": "quantitative"}, "text": {"field": "t"}, "size": {"field": "k", "type": "nominal", "scale": {"type": "ordinal", "domain": ["panel", "head", "peak", "small", "tiny", "series", "mid", "rpeak", "big"], "range": [64, 54, 36, 40, 24, 50, 46, 53, 69]}, "legend": null}}}
      ]},
      {"width": 800, "height": 1110, "layer": [
        {"data": {"name": "rects"}, "transform": [{"filter": "datum.p == 'bR'"}], "mark": {"type": "rect", "fill": "#66ee33", "fillOpacity": 0.35, "stroke": "#000", "strokeDash": [10, 7], "strokeWidth": 3},
         "encoding": {"x": {"field": "x1", "type": "quantitative", "scale": {"domain": [51.73, 57.98], "reverse": true, "nice": false, "zero": false}, "axis": {"values": [57, 56, 55, 54, 53, 52], "title": null}},
          "x2": {"field": "x2"},
          "y": {"field": "y1", "type": "quantitative", "scale": {"domain": [968, 540], "nice": false, "zero": false}, "axis": null},
          "y2": {"field": "y2"}}},
        {"data": {"name": "vlines"}, "transform": [{"filter": "datum.p == 'bR'"}], "mark": {"type": "rule", "strokeDash": [8, 6], "strokeWidth": 3, "color": "#000"}, "encoding": {"x": {"field": "x", "type": "quantitative"}, "y": {"field": "y1", "type": "quantitative"}, "y2": {"field": "y2"}}},
        {"data": {"name": "curves"}, "transform": [{"filter": "datum.p == 'bR'"}], "mark": {"type": "line", "strokeWidth": 8}, "encoding": {"x": {"field": "x", "type": "quantitative"}, "y": {"field": "y", "type": "quantitative"}, "color": {"field": "s", "type": "nominal", "scale": {"domain": ["40", "35", "30", "25", "20", "ref"], "range": ["#1c1c70", "#1a7a1a", "#ff00ff", "#0000ff", "#ff0000", "#000000"]}, "legend": null}}},
        {"data": {"name": "labels"}, "transform": [{"filter": "datum.p == 'bR' && datum.a == 'left'"}], "mark": {"type": "text", "align": "left"}, "encoding": {"x": {"field": "x", "type": "quantitative"}, "y": {"field": "y", "type": "quantitative"}, "text": {"field": "t"}, "size": {"field": "k", "type": "nominal", "scale": {"type": "ordinal", "domain": ["panel", "head", "peak", "small", "tiny", "series", "mid", "rpeak", "big"], "range": [64, 54, 36, 40, 24, 50, 46, 53, 69]}, "legend": null}}},
        {"data": {"name": "labels"}, "transform": [{"filter": "datum.p == 'bR' && datum.a == 'center'"}], "mark": {"type": "text", "align": "center"}, "encoding": {"x": {"field": "x", "type": "quantitative"}, "y": {"field": "y", "type": "quantitative"}, "text": {"field": "t"}, "size": {"field": "k", "type": "nominal", "scale": {"type": "ordinal", "domain": ["panel", "head", "peak", "small", "tiny", "series", "mid", "rpeak", "big"], "range": [64, 54, 36, 40, 24, 50, 46, 53, 69]}, "legend": null}}}
      ]}
    ], "spacing": 20},
    {"hconcat": [
      {"width": 1500, "height": 1135, "layer": [
        {"data": {"name": "rects"}, "transform": [{"filter": "datum.p == 'cL'"}], "mark": {"type": "rect", "fill": "#66ee33", "fillOpacity": 0.35, "stroke": "#000", "strokeDash": [10, 7], "strokeWidth": 3},
         "encoding": {"x": {"field": "x1", "type": "quantitative", "scale": {"domain": [82.3, 113.0], "reverse": true, "nice": false, "zero": false}, "axis": {"values": [110, 105, 100, 95, 90, 85], "title": "Binding energy /eV", "titleX": 1163, "titlePadding": 20}},
          "x2": {"field": "x2"},
          "y": {"field": "y1", "type": "quantitative", "scale": {"domain": [1490, 1052], "nice": false, "zero": false}, "axis": {"labels": false, "ticks": false, "title": "Intensity /counts·s⁻¹", "titlePadding": 20}},
          "y2": {"field": "y2"}}},
        {"data": {"name": "curves"}, "transform": [{"filter": "datum.p == 'cL'"}], "mark": {"type": "line", "strokeWidth": 8}, "encoding": {"x": {"field": "x", "type": "quantitative"}, "y": {"field": "y", "type": "quantitative"}, "color": {"field": "s", "type": "nominal", "scale": {"domain": ["40", "35", "30", "25", "20", "ref"], "range": ["#1c1c70", "#1a7a1a", "#ff00ff", "#0000ff", "#ff0000", "#000000"]}, "legend": null}}},
        {"data": {"name": "labels"}, "transform": [{"filter": "datum.p == 'cL' && datum.a == 'left'"}], "mark": {"type": "text", "align": "left"}, "encoding": {"x": {"field": "x", "type": "quantitative"}, "y": {"field": "y", "type": "quantitative"}, "text": {"field": "t"}, "size": {"field": "k", "type": "nominal", "scale": {"type": "ordinal", "domain": ["panel", "head", "peak", "small", "tiny", "series", "mid", "rpeak", "big"], "range": [64, 54, 36, 40, 24, 50, 46, 53, 69]}, "legend": null}}},
        {"data": {"name": "labels"}, "transform": [{"filter": "datum.p == 'cL' && datum.a == 'right'"}], "mark": {"type": "text", "align": "right"}, "encoding": {"x": {"field": "x", "type": "quantitative"}, "y": {"field": "y", "type": "quantitative"}, "text": {"field": "t"}, "size": {"field": "k", "type": "nominal", "scale": {"type": "ordinal", "domain": ["panel", "head", "peak", "small", "tiny", "series", "mid", "rpeak", "big"], "range": [64, 54, 36, 40, 24, 50, 46, 53, 69]}, "legend": null}}},
        {"data": {"name": "labels"}, "transform": [{"filter": "datum.p == 'cL' && datum.a == 'center'"}], "mark": {"type": "text", "align": "center"}, "encoding": {"x": {"field": "x", "type": "quantitative"}, "y": {"field": "y", "type": "quantitative"}, "text": {"field": "t"}, "size": {"field": "k", "type": "nominal", "scale": {"type": "ordinal", "domain": ["panel", "head", "peak", "small", "tiny", "series", "mid", "rpeak", "big"], "range": [64, 54, 36, 40, 24, 50, 46, 53, 69]}, "legend": null}}}
      ]},
      {"width": 800, "height": 1135, "layer": [
        {"data": {"name": "rects"}, "transform": [{"filter": "datum.p == 'cR'"}], "mark": {"type": "rect", "fill": "#66ee33", "fillOpacity": 0.35, "stroke": "#000", "strokeDash": [10, 7], "strokeWidth": 3},
         "encoding": {"x": {"field": "x1", "type": "quantitative", "scale": {"domain": [90.7, 95.27], "reverse": true, "nice": false, "zero": false}, "axis": {"values": [95, 94, 93, 92, 91], "title": null}},
          "x2": {"field": "x2"},
          "y": {"field": "y1", "type": "quantitative", "scale": {"domain": [1490, 1052], "nice": false, "zero": false}, "axis": null},
          "y2": {"field": "y2"}}},
        {"data": {"name": "vlines"}, "transform": [{"filter": "datum.p == 'cR'"}], "mark": {"type": "rule", "strokeDash": [8, 6], "strokeWidth": 3, "color": "#000"}, "encoding": {"x": {"field": "x", "type": "quantitative"}, "y": {"field": "y1", "type": "quantitative"}, "y2": {"field": "y2"}}},
        {"data": {"name": "curves"}, "transform": [{"filter": "datum.p == 'cR'"}], "mark": {"type": "line", "strokeWidth": 8}, "encoding": {"x": {"field": "x", "type": "quantitative"}, "y": {"field": "y", "type": "quantitative"}, "color": {"field": "s", "type": "nominal", "scale": {"domain": ["40", "35", "30", "25", "20", "ref"], "range": ["#1c1c70", "#1a7a1a", "#ff00ff", "#0000ff", "#ff0000", "#000000"]}, "legend": null}}},
        {"data": {"name": "labels"}, "transform": [{"filter": "datum.p == 'cR' && datum.a == 'left'"}], "mark": {"type": "text", "align": "left"}, "encoding": {"x": {"field": "x", "type": "quantitative"}, "y": {"field": "y", "type": "quantitative"}, "text": {"field": "t"}, "size": {"field": "k", "type": "nominal", "scale": {"type": "ordinal", "domain": ["panel", "head", "peak", "small", "tiny", "series", "mid", "rpeak", "big"], "range": [64, 54, 36, 40, 24, 50, 46, 53, 69]}, "legend": null}}},
        {"data": {"name": "labels"}, "transform": [{"filter": "datum.p == 'cR' && datum.a == 'center'"}], "mark": {"type": "text", "align": "center"}, "encoding": {"x": {"field": "x", "type": "quantitative"}, "y": {"field": "y", "type": "quantitative"}, "text": {"field": "t"}, "size": {"field": "k", "type": "nominal", "scale": {"type": "ordinal", "domain": ["panel", "head", "peak", "small", "tiny", "series", "mid", "rpeak", "big"], "range": [64, 54, 36, 40, 24, 50, 46, 53, 69]}, "legend": null}}}
      ]}
    ], "spacing": 20}
  ],
  "spacing": 45
}
